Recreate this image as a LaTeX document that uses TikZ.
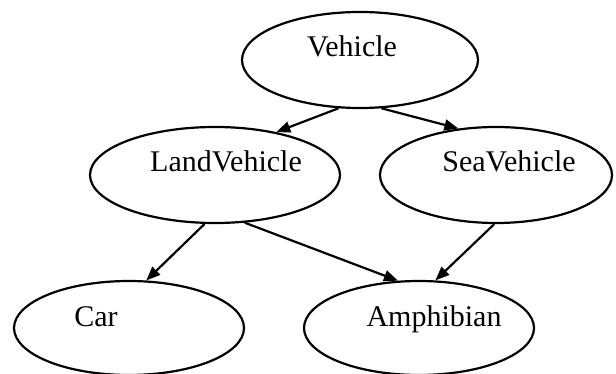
\documentclass[tikz,border=0pt]{standalone}
\usepackage{fontspec}
\setmainfont{Liberation Serif}
\usetikzlibrary{shapes.geometric,arrows.meta}
\begin{document}
\begin{tikzpicture}[x=1pt, y=-1pt, line width=2.2pt,
	cls/.style={draw, ellipse, inner sep=0pt},
	lbl/.style={anchor=base, inner sep=0pt, font=\fontsize{30}{36}\selectfont},
	isa/.style={-{Triangle[length=14pt, width=11pt]}}]
	\useasboundingbox (0, 0) rectangle (616, 374);

	\node[cls, minimum width=236, minimum height=96] (vehicle) at (360, 60) {};
	\node[cls, minimum width=250, minimum height=96] (land) at (215, 175) {};
	\node[cls, minimum width=232, minimum height=96] (sea) at (496, 175) {};
	\node[cls, minimum width=230, minimum height=94] (car) at (129, 328) {};
	\node[cls, minimum width=230, minimum height=94] (amphibian) at (419, 328) {};

	\node[lbl] (vehicletext) at (352, 57) {Vehicle};
	\node[lbl] (landtext) at (226, 172) {LandVehicle};
	\node[lbl] (seatext) at (509, 172) {SeaVehicle};
	\node[lbl] (cartext) at (96, 326) {Car};
	\node[lbl] (amphibiantext) at (434, 326) {Amphibian};

	\draw[isa] (vehicle.246) -- (land.35);
	\draw[isa] (vehicle.294) -- (sea.129);
	\draw[isa] (land.258) -- (car.70);
	\draw[isa] (land.302) -- (amphibian.114);
	\draw[isa] (sea.268) -- (amphibian.71);
\end{tikzpicture}
\end{document}
